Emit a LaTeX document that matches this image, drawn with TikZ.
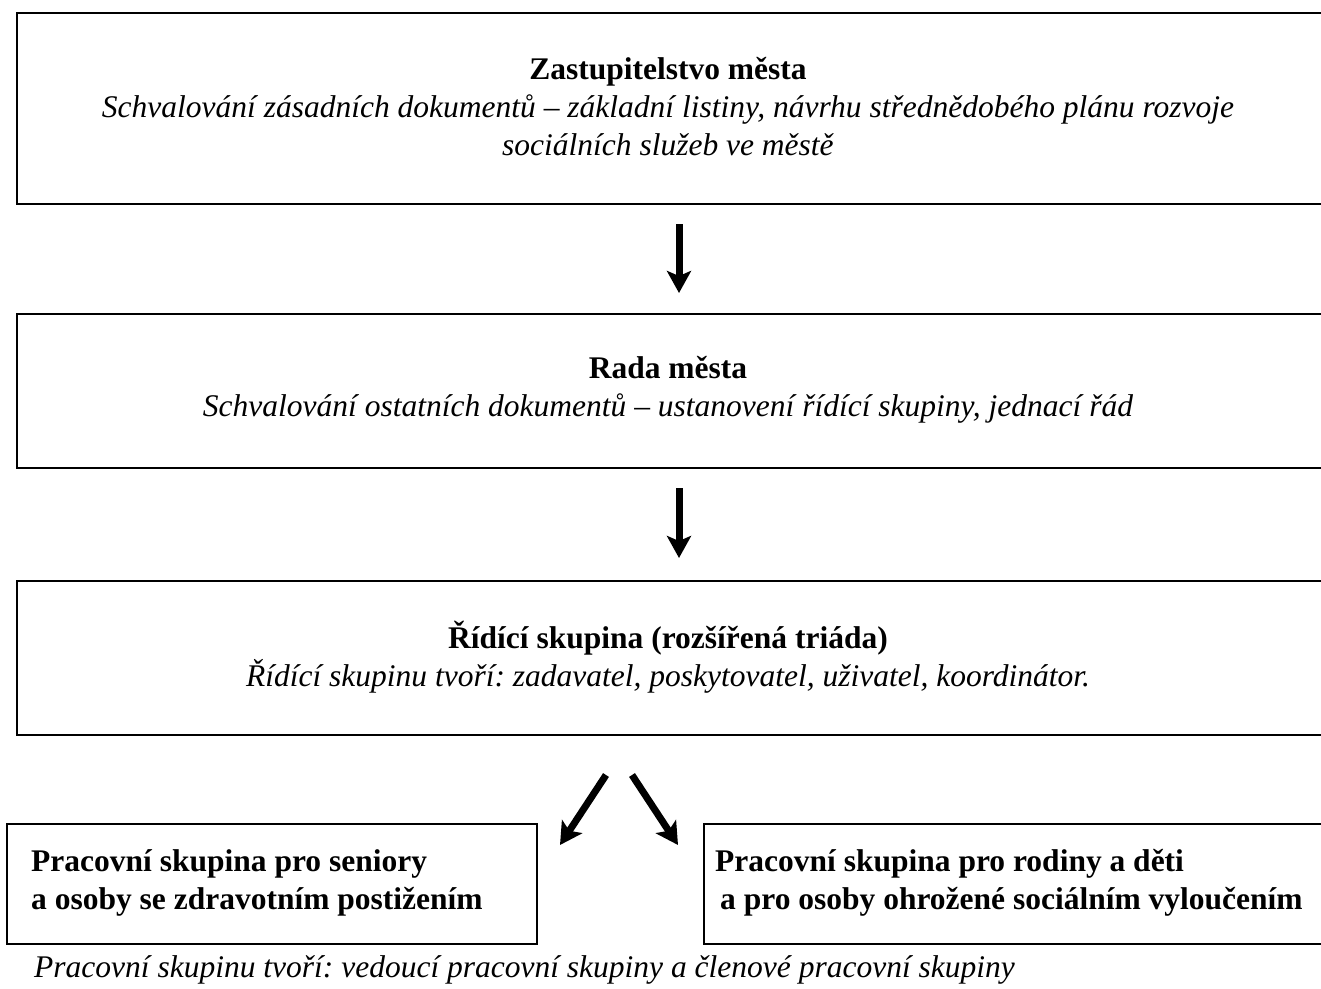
\documentclass[tikz,border=0pt]{standalone}
\usepackage{fontspec}
\setmainfont{Liberation Serif}
\usetikzlibrary{arrows.meta,calc}
\begin{document}
\frenchspacing
\begin{tikzpicture}[x=1pt,y=-1pt,
  topbox/.style={draw=black,line width=2.4pt,minimum width=1330pt,anchor=north west,inner sep=0pt},
  lowbox/.style={draw=black,line width=1.6pt,anchor=north west,inner sep=0pt},
  txt/.style={font=\fontsize{31.5}{38}\selectfont,inner sep=0pt},
  arr/.style={line width=7pt,-{Stealth[length=22pt,width=24pt,inset=5pt]}}]
\path[use as bounding box] (0,0) rectangle (1321,988);
\clip (0,0) rectangle (1321,988);
% boxes
\node[topbox,minimum height=191pt] (b1) at (16,12) {};
\node[topbox,minimum height=154pt] (b2) at (16,313) {};
\node[topbox,minimum height=154pt] (b3) at (16,580) {};
\node[lowbox,minimum width=530pt,minimum height=120pt] (b4) at (6,823) {};
\node[lowbox,minimum width=640pt,minimum height=120pt] (b5) at (703,823) {};
% texts
\node[txt,align=center] (t1) at (668,107) {\textbf{Zastupitelstvo města}\\\textit{Schvalování zásadních dokumentů – základní listiny, návrhu střednědobého plánu rozvoje}\\\textit{sociálních služeb ve městě}};
\node[txt,align=center] (t2) at (668,390) {\textbf{Rada města}\\\textit{Schvalování ostatních dokumentů – ustanovení řídící skupiny, jednací řád}};
\node[txt,align=center] (t3) at (668,657) {\textbf{Řídící skupina (rozšířená triáda)}\\\textit{Řídící skupinu tvoří: zadavatel, poskytovatel, uživatel, koordinátor.}};
\node[txt,align=left,anchor=west] (t4) at (31,883) {\textbf{Pracovní skupina pro seniory}\\\textbf{a osoby se zdravotním postižením}};
\node[txt,align=left,anchor=west] (t5) at (715,883) {\textbf{Pracovní skupina pro rodiny a děti}\\\hspace*{5pt}\textbf{a pro osoby ohrožené sociálním vyloučením}};
\node[txt,anchor=west] (t6) at (34,970) {\textit{Pracovní skupinu tvoří: vedoucí pracovní skupiny a členové pracovní skupiny}};
% arrows
\coordinate (ax) at (679,0);
\draw[arr,shorten <=19pt,shorten >=20pt] (b1.south -| ax) -- (b2.north -| ax);
\draw[arr,shorten <=19pt,shorten >=22pt] (b2.south -| ax) -- (b3.north -| ax);
\coordinate (ls) at (606,775);
\coordinate (le) at (560,845);
\coordinate (rs) at (632,775);
\coordinate (re) at (678,845);
\draw[arr] (ls) -- (le);
\draw[arr] (rs) -- (re);
\end{tikzpicture}
\end{document}
